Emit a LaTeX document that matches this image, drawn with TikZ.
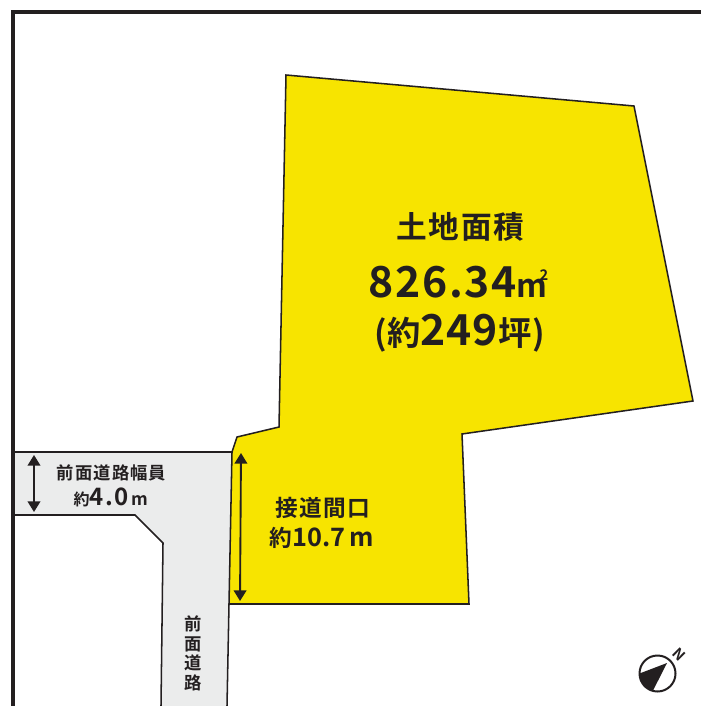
\documentclass[tikz,border=0pt]{standalone}
\usepackage{fontspec}
\usepackage{xcolor}
\setmainfont{Noto Sans CJK JP}[BoldFont={Noto Sans CJK JP Bold}]
\usetikzlibrary{positioning,arrows.meta}
\definecolor{lotyellow}{HTML}{F7E400}
\definecolor{roadgrey}{HTML}{EBECEC}
\definecolor{inkblack}{HTML}{231F20}
\tikzset{
    boundary/.style={draw=inkblack, line width=1.15pt, line join=miter},
    dimarrow/.style={{Triangle[length=8pt,width=9.5pt]}-{Triangle[length=8pt,width=9.5pt]}, draw=inkblack, fill=inkblack, line width=1.4pt},
    label/.style={text=inkblack, font=\bfseries, align=center, inner sep=0pt}
}
\begin{document}
\begin{tikzpicture}[x=0.75pt, y=-0.75pt]
    \useasboundingbox (0,0) rectangle (701,706);

    % road
    \fill[roadgrey] (13,452) -- (232,452) -- (227,706) -- (161,706) -- (163,543) -- (135,515) -- (13,515) -- cycle;
    \draw[boundary] (13,452) -- (232,452);
    \draw[boundary] (13,515) -- (135,515) -- (163,543) -- (161,706);
    \draw[boundary] (229,604) -- (227,706);

    % lot
    \draw[boundary, fill=lotyellow] (286,75) -- (634,106) -- (693,401) -- (462,434) -- (469,604) -- (229,604)
        -- (232,452) -- (237,437) -- (279,427) -- cycle;

    % frame
    \draw[inkblack, line width=2.6pt] (13,706) -- (13,12) -- (701,12);

    % dimensions
    \coordinate (roadtop) at (34,455);
    \coordinate (roadbot) at (34,512);
    \coordinate (fronttop) at (241,453);
    \coordinate (frontbot) at (240,601);
    \draw[dimarrow] (roadtop) -- (roadbot);
    \draw[dimarrow] (fronttop) -- (frontbot);

    % labels
    \node[label] (areatitle) at (460.5,227) {\fontsize{23pt}{23pt}\selectfont\addfontfeature{LetterSpace=6}土地面積};
    \node[label] (areavalue) at (458.5,282) {\fontsize{32pt}{32pt}\selectfont\addfontfeature{LetterSpace=4}826.34\fontsize{24pt}{24pt}\selectfont m\raisebox{13pt}[0pt][0pt]{\kern-6pt\fontsize{11pt}{11pt}\selectfont 2}};
    \node[label] (areatsubo) at (459.5,333) {\fontsize{25pt}{25pt}\selectfont\addfontfeature{LetterSpace=2}(約\fontsize{32pt}{32pt}\selectfont 249\fontsize{25pt}{25pt}\selectfont 坪)};
    \node[label] (roadwidth) at (111.5,473) {\fontsize{13pt}{13pt}\selectfont\addfontfeature{LetterSpace=6}前面道路幅員};
    \node[label] (roadwidthval) at (111,497) {\fontsize{12pt}{12pt}\selectfont 約\fontsize{18pt}{18pt}\selectfont\addfontfeature{LetterSpace=6}4.0\fontsize{13pt}{13pt}\selectfont\,m};
    \node[label] (frontage) at (322.5,508) {\fontsize{17pt}{17pt}\selectfont\addfontfeature{LetterSpace=6}接道間口};
    \node[label] (frontageval) at (322,538) {\fontsize{17pt}{17pt}\selectfont 約\fontsize{19pt}{19pt}\selectfont 10.7\,m};
    \node[label, font=\bfseries\fontsize{13pt}{14.6pt}\selectfont] (roadname) at (193.5,653.5) {前\\面\\道\\路};

    % north mark
    \draw[inkblack, line width=1.5pt, fill=white] (657.5,673.5) circle (18);
    \fill[inkblack] (667,663) -- (639.5,673.5) arc[start angle=180, end angle=105, radius=18] -- cycle;
    \node[label, rotate=-45] (north) at (679,655) {\fontsize{11pt}{11pt}\selectfont N};
\end{tikzpicture}
\end{document}
